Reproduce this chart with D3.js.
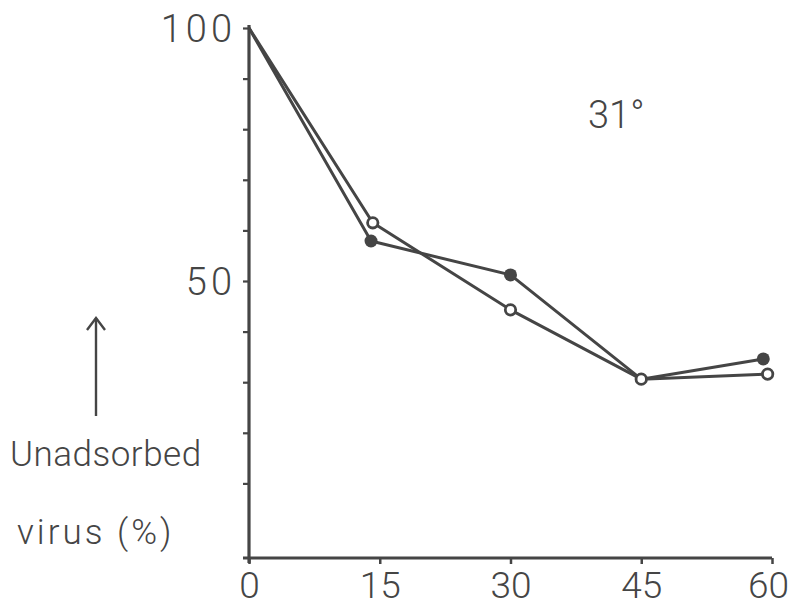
<!DOCTYPE html>
<html><head><meta charset="utf-8">
<script src="https://cdn.jsdelivr.net/npm/d3@7"></script>
<style>body{margin:0;background:#fff}svg{display:block}</style>
</head><body>
<script>
const filledTime = [0, 14, 30, 45, 59];
const filledValue = [100, 57.9, 51.2, 30.6, 34.6];
const openTime = [0, 14.2, 30, 45, 59.5];
const openValue = [100, 61.5, 44.3, 30.6, 31.6];
const xTicks = [0, 15, 30, 45, 60];
const yTicks = [10, 20, 30, 40, 50, 60, 70, 80, 90, 100];
const yTickLabels = {50: "50", 100: "100"};
const tempLabel = "31°";

const W = 794, H = 615;
const col = "#454545";
const svg = d3.select("body").append("svg").attr("width", W).attr("height", H);
const x = d3.scaleLinear().domain([0, 60]).range([249, 772]);
const y = d3.scaleLinear().domain([0, 100]).range([534, 28]);
const axisY = 558;
const font = "Roboto, 'DejaVu Sans', sans-serif";
const fw = 300;

// y axis
const ya = svg.append("g").attr("transform", `translate(${x(0)},0)`)
  .call(d3.axisLeft(y).tickValues(yTicks).tickSize(6).tickFormat(d => yTickLabels[d] || ""));
ya.select(".domain").remove();
ya.append("line").attr("x1", 0).attr("x2", 0).attr("y1", y(100) - 3).attr("y2", axisY + 5)
  .attr("stroke", col).attr("stroke-width", 3.2);
ya.selectAll(".tick line").attr("stroke", col).attr("stroke-width", 2.2);
ya.selectAll(".tick text").attr("fill", col).attr("font-family", font).attr("font-weight", fw)
  .attr("font-size", 38).attr("letter-spacing", 4).attr("x", -13).attr("dy", "0.36em");

// x axis
const xa = svg.append("g").attr("transform", `translate(0,${axisY})`)
  .call(d3.axisBottom(x).tickValues(xTicks).tickSize(6).tickFormat(d3.format("d")));
xa.select(".domain").remove();
xa.append("line").attr("x1", x(0) - 6).attr("x2", x(60)).attr("y1", 0).attr("y2", 0)
  .attr("stroke", col).attr("stroke-width", 3.2);
xa.selectAll(".tick line").attr("stroke", col).attr("stroke-width", 2.5);
xa.selectAll(".tick text").attr("fill", col).attr("font-family", font).attr("font-weight", fw)
  .attr("font-size", 37).attr("letter-spacing", 0).attr("y", 40).attr("dy", 0)
  .attr("dx", d => d === 60 ? -4 : 0);

// series
const filled = filledTime.map((t, i) => ({t, v: filledValue[i]}));
const open = openTime.map((t, i) => ({t, v: openValue[i]}));
const line = d3.line().x(d => x(d.t)).y(d => y(d.v));
[filled, open].forEach(s => {
  svg.append("path").datum(s).attr("d", line).attr("fill", "none")
    .attr("stroke", col).attr("stroke-width", 3).attr("stroke-linejoin", "round");
});
svg.selectAll(".pf").data(filled.slice(1)).enter().append("circle")
  .filter(d => d.t !== 45)
  .attr("cx", d => x(d.t)).attr("cy", d => y(d.v)).attr("r", 6.5).attr("fill", col);
svg.selectAll(".po").data(open.slice(1)).enter().append("circle")
  .attr("cx", d => x(d.t)).attr("cy", d => y(d.v)).attr("r", 5.2)
  .attr("fill", "#fff").attr("stroke", col).attr("stroke-width", 2.8);

// temperature label
svg.append("text").attr("x", 588).attr("y", 128).attr("fill", col)
  .attr("font-family", font).attr("font-weight", fw).attr("font-size", 38).text(tempLabel);

// y axis title with arrow
svg.append("line").attr("x1", 96).attr("x2", 96).attr("y1", 416).attr("y2", 318)
  .attr("stroke", col).attr("stroke-width", 2.4);
svg.append("path").attr("d", "M87,330 L96,318 L105,330").attr("fill", "none")
  .attr("stroke", col).attr("stroke-width", 2.4);
svg.append("text").attr("x", 10).attr("y", 466).attr("fill", col)
  .attr("font-family", font).attr("font-weight", fw).attr("font-size", 35).attr("letter-spacing", 0.5).text("Unadsorbed");
svg.append("text").attr("x", 17).attr("y", 544).attr("fill", col)
  .attr("font-family", font).attr("font-weight", fw).attr("font-size", 35).attr("letter-spacing", 3).text("virus (%)");
</script>
</body></html>
